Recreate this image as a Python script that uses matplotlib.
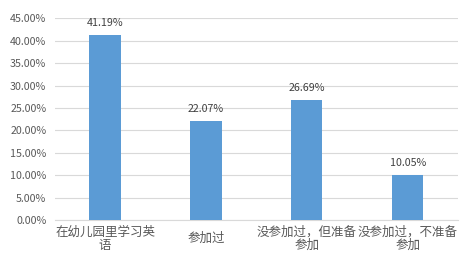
import numpy as np
import matplotlib
matplotlib.use('Agg')
import matplotlib.pyplot as plt
from matplotlib.ticker import FuncFormatter

plt.rcParams['font.family'] = ['Noto Sans CJK SC', 'DejaVu Sans']

# 数据
categories = ['在幼儿园里学习英\n语', '参加过', '没参加过，但准备\n参加', '没参加过，不准备\n参加']
values = [41.19, 22.07, 26.69, 10.05]
y_ticks = np.arange(0, 45.01, 5)

fig = plt.figure(figsize=(4.67, 2.56), dpi=100)
ax = fig.add_axes([0.117, 0.1406, 0.864, 0.788])

x = np.arange(len(categories))
bars = ax.bar(x, values, width=0.31, color='#5B9BD5', zorder=3)

# 数据标签
for b, v in zip(bars, values):
    ax.annotate(f'{v:.2f}%', (b.get_x() + b.get_width() / 2, v),
                xytext=(0, 5), textcoords='offset points',
                ha='center', va='bottom', fontsize=7.7, color='#404040')

ax.set_xlim(-0.5, len(categories) - 0.5)
ax.set_ylim(0, 45)
ax.set_yticks(y_ticks)
ax.yaxis.set_major_formatter(FuncFormatter(lambda v, p: f'{v:.2f}%'))
ax.grid(axis='y', color='#D9D9D9', linewidth=0.8, zorder=0)

for s in ['top', 'right', 'left']:
    ax.spines[s].set_visible(False)
ax.spines['bottom'].set_color('#D9D9D9')

ax.tick_params(axis='y', length=0, labelsize=7.7, labelcolor='#595959', pad=6)
ax.tick_params(axis='x', length=0, labelsize=9, labelcolor='#595959', pad=13.5)
ax.set_xticks(x)
ax.set_xticklabels(categories, linespacing=1.05)
for lbl in ax.get_xticklabels():
    lbl.set_va('center')

fig.savefig('out.png', dpi=100)
